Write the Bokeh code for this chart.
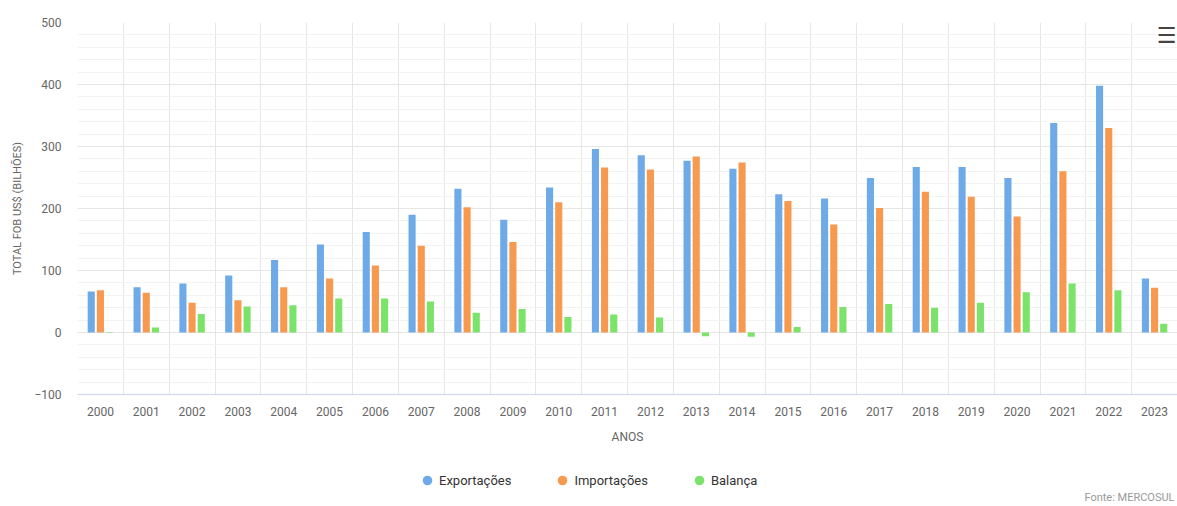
import numpy as np
from bokeh.plotting import figure
from bokeh.layouts import column
from bokeh.models import (ColumnDataSource, Range1d, FixedTicker, SingleIntervalTicker,
                          Legend, LegendItem, Label)
from bokeh.transform import dodge
from bokeh.embed import file_html
from bokeh.resources import INLINE

years = ["2000", "2001", "2002", "2003", "2004", "2005", "2006", "2007", "2008", "2009",
         "2010", "2011", "2012", "2013", "2014", "2015", "2016", "2017", "2018", "2019",
         "2020", "2021", "2022", "2023"]
exportacoes = [66, 73, 79, 92, 117, 142, 162, 190, 232, 182,
               234, 296, 286, 277, 264, 223, 216, 249, 267, 267,
               249, 338, 398, 87]
importacoes = [68, 64, 48, 52, 73, 87, 108, 140, 202, 146,
               210, 266, 263, 284, 274, 212, 174, 201, 227, 219,
               187, 260, 330, 72]
balanca = [-1, 8, 30, 42, 44, 55, 55, 50, 32, 38,
           25, 29, 24, -6, -7, 9, 41, 46, 40, 48,
           65, 79, 68, 14]

series_names = ["Exportações", "Importações", "Balança"]
colors = ["#6eaae8", "#f79a50", "#7be36a"]
FONT = "Roboto"

idx = list(range(len(years)))
source = ColumnDataSource(dict(x=idx, year=years, exp=exportacoes, imp=importacoes, bal=balanca))

W = 1177
H_MAIN, H_LEG = 448, 58
LEFT = 77
p = figure(width=W, height=H_MAIN, output_backend="svg", toolbar_location=None,
           x_range=Range1d(-0.5, len(years) - 0.5), y_range=Range1d(-100, 500),
           min_border_left=LEFT, min_border_right=0, min_border_top=22, min_border_bottom=54)
p.outline_line_color = None
p.background_fill_color = "white"
p.border_fill_color = "white"

bw = 0.155
for col, off, c in zip(["exp", "imp", "bal"], [-0.2, 0.0, 0.2], colors):
    p.vbar(x=dodge("x", off), top=col, bottom=0, width=bw, source=source,
           fill_color=c, line_color=None)

# axes
xa = p.xaxis[0]
xa.ticker = FixedTicker(ticks=idx)
xa.major_label_overrides = {i: y for i, y in zip(idx, years)}
xa.major_tick_line_color = None
xa.minor_tick_line_color = None
xa.axis_line_color = "#ccd6eb"
xa.major_label_standoff = 6
xa.major_label_text_font = FONT
xa.major_label_text_font_size = "12px"
xa.major_label_text_color = "#666666"
xa.axis_label = "ANOS"
xa.axis_label_text_font = FONT
xa.axis_label_text_font_style = "normal"
xa.axis_label_text_font_size = "12px"
xa.axis_label_text_color = "#666666"
xa.axis_label_standoff = 11

ya = p.yaxis[0]
ya.ticker = SingleIntervalTicker(interval=100, num_minor_ticks=5)
ya.axis_line_color = None
ya.major_tick_line_color = None
ya.minor_tick_line_color = None
ya.major_label_standoff = 10
ya.major_label_text_font = FONT
ya.major_label_text_font_size = "12px"
ya.major_label_text_color = "#666666"
ya.axis_label = "TOTAL FOB US$ (BILHÕES)"
ya.axis_label_text_font = FONT
ya.axis_label_text_font_style = "normal"
ya.axis_label_text_font_size = "11px"
ya.axis_label_text_color = "#666666"
ya.axis_label_standoff = 7

p.xgrid.ticker = FixedTicker(ticks=[i - 0.5 for i in idx] + [len(years) - 0.5])
p.xgrid.grid_line_color = "#e6e6e6"
p.ygrid.grid_line_color = "#e6e6e6"
p.ygrid.minor_grid_line_color = "#f3f3f3"

# menu icon
p.add_layout(Label(x=1089, y=359, x_units="screen", y_units="screen", text="☰",
                   text_align="center", text_baseline="middle", text_font="DejaVu Sans",
                   text_font_size="22px", text_font_style="bold", text_color="#444444"))

# legend figure (circle markers) + source note
lf = figure(width=W, height=H_LEG, output_backend="svg", toolbar_location=None,
            x_range=Range1d(0, 1), y_range=Range1d(0, 1),
            x_axis_location=None, y_axis_location=None,
            min_border_left=LEFT, min_border_right=0, min_border_top=0, min_border_bottom=0)
lf.outline_line_color = None
lf.xgrid.visible = False
lf.ygrid.visible = False
leg_src = ColumnDataSource(dict(x=[np.nan], y=[np.nan]))
items = []
for name, c in zip(series_names, colors):
    r = lf.scatter(x="x", y="y", source=leg_src, marker="circle", size=12,
                   fill_color=c, line_color=None)
    items.append(LegendItem(label=name, renderers=[r]))
legend = Legend(items=items, orientation="horizontal", location=(338, 14),
                label_text_font=FONT, label_text_font_size="13px", label_text_color="#333333",
                glyph_width=24, glyph_height=24, label_standoff=-2, spacing=39,
                border_line_color=None, background_fill_alpha=0, margin=0, padding=4)
lf.add_layout(legend, "center")
lf.add_layout(Label(x=W - LEFT - 3, y=9, x_units="screen", y_units="screen",
                    text="Fonte: MERCOSUL", text_align="right", text_baseline="middle",
                    text_font=FONT, text_font_size="11px", text_color="#999999"))

layout = column(p, lf, spacing=0)
open("out.html", "w").write(file_html(layout, INLINE))
